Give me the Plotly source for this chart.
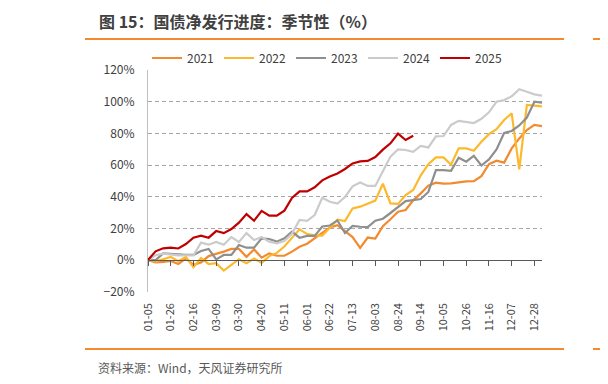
import plotly.graph_objects as go

# ---------------- data ----------------
weeks = ["01-05","01-12","01-19","01-26","02-02","02-09","02-16","02-23","03-02","03-09",
         "03-16","03-23","03-30","04-06","04-13","04-20","04-27","05-04","05-11","05-18",
         "05-25","06-01","06-08","06-15","06-22","06-29","07-06","07-13","07-20","07-27",
         "08-03","08-10","08-17","08-24","08-31","09-07","09-14","09-21","09-28","10-05",
         "10-12","10-19","10-26","11-02","11-09","11-16","11-23","11-30","12-07","12-14",
         "12-21","12-28","12-31"]

tick_labels = ["01-05","01-26","02-16","03-09","03-30","04-20","05-11","06-01","06-22",
               "07-13","08-03","08-24","09-14","10-05","10-26","11-16","12-07","12-28"]

y2021 = [0, -1.5, -1.2, -0.6, -2.5, 1, -3, -1.5, 2.5, 3.8,
         5.3, 7, 7, 2, 6.7, 1.5, 4.2, 2.7, 2.7, 5.3,
         8.4, 10.3, 13.8, 17.3, 20.6, 22, 18.5, 14.5, 7.7, 14.2,
         13.5, 21.3, 25.7, 30.5, 31.6, 37.7, 42.1, 47, 48.8, 48.2,
         48.4, 49, 49.7, 49.8, 53, 60.5, 62.7, 61.5, 70.5, 76.8,
         82.1, 85.3, 84.6]

y2022 = [0, -0.8, 0.5, 2, -0.8, 2, -4.6, 1.2, -2.5, -2,
         -6.7, -2.8, 0.5, -2, 1, -1.8, 2.5, 4.5, 8.5, 14,
         19.4, 16.4, 15.6, 15.4, 20.3, 25.5, 24.6, 32.6, 33.7, 35.7,
         37.5, 48.2, 35.8, 35.4, 41, 44.2, 53.5, 60.5, 64.8, 64.8,
         60.2, 70.5, 70.5, 69, 74.7, 79.5, 82.6, 88.4, 92.6, 57.3,
         98, 97.5, 97]

y2023 = [0, 0, 4.2, 3.8, 3.6, 3.2, 3.2, 5.7, 7, 0.4,
         3.2, 3.2, 9.5, 7.8, 7.8, 13.7, 13.3, 11.6, 13.7, 17.9,
         14.1, 15.2, 15.2, 21.2, 21.8, 25, 17, 21.6, 21, 20.8,
         24.8, 26.1, 29.7, 33.5, 37.2, 37.8, 38.5, 43, 56.8, 56.8,
         56.3, 64.6, 62.1, 65.8, 59.7, 63.5, 69.9, 80.2, 81.5, 85,
         90, 100, 99.4]

y2024 = [0, 3, 4, 3.5, 3, 3, 3, 11, 9.7, 11.4,
         9.7, 14.5, 11.4, 17, 12.6, 14.5, 11.5, 10.5, 12, 16.5,
         25.3, 24.8, 28.4, 39.3, 36.8, 35.6, 39.8, 46.5, 48.9, 46.8,
         46.8, 56, 65.3, 69.9, 69.5, 68.3, 72.1, 71.1, 78.1, 78.3,
         85.3, 87.9, 87.1, 86.5, 89.2, 93.3, 100, 101, 103.4, 107.9,
         106.3, 104.6, 103.8]

y2025 = [0, 5.5, 7.4, 7.8, 7.3, 10.1, 14.1, 15.4, 14.1, 18.3,
         17, 19.6, 23.6, 29, 24.8, 31, 28, 28, 31.2, 39.2,
         43.3, 43.3, 45.9, 50.3, 52.8, 54.7, 57.5, 61, 62.3, 62.6,
         65, 69.7, 73.7, 79.8, 75.8, 78.5]

series_names = ["2021", "2022", "2023", "2024", "2025"]
series_values = [y2021, y2022, y2023, y2024, y2025]
series_colors = ["#F28A30", "#FDB92C", "#8F8F8F", "#CBCBCB", "#C00000"]

# ---------------- layout geometry ----------------
W, H = 608, 384
OFF = 8  # page body margin offset of the rendered figure
def px(x):
    return (x - OFF) / W
def py(y):
    return (H - (y - OFF)) / H

x_dom = [px(148), px(542)]
y_dom = [py(291.7), py(70)]
y_min, y_max = -20, 120
zero_pos = y_dom[0] + (0 - y_min) / (y_max - y_min) * (y_dom[1] - y_dom[0])

FONT = "Noto Sans CJK SC, Noto Sans, sans-serif"

fig = go.Figure()
for name, vals, col in zip(series_names, series_values, series_colors):
    fig.add_trace(go.Scatter(
        x=weeks[:len(vals)], y=vals, name=name, mode="lines",
        line=dict(color=col, width=2.2), hoverinfo="skip"))

# dummy trace to carry the zero-line axis with tick marks
fig.add_trace(go.Scatter(x=[weeks[0]], y=[None], xaxis="x2", yaxis="y",
                         showlegend=False, hoverinfo="skip", mode="lines"))

fig.update_layout(
    width=W, height=H, autosize=False,
    margin=dict(l=0, r=0, t=0, b=0, pad=0, autoexpand=False),
    paper_bgcolor="white", plot_bgcolor="white",
    font=dict(family=FONT, size=11, color="#404040"),
    showlegend=True,
    legend=dict(orientation="h", x=px(147), y=py(58), xanchor="left", yanchor="middle",
                font=dict(size=12, color="#404040"), entrywidth=27, entrywidthmode="pixels",
                bgcolor="rgba(0,0,0,0)", traceorder="normal"),
    xaxis=dict(domain=x_dom, type="category", categoryorder="array", categoryarray=weeks,
               range=[0, len(weeks) - 1], tickmode="array", tickvals=tick_labels,
               ticktext=tick_labels, tickangle=-90, showgrid=False, showline=False,
               zeroline=False, ticks="outside", ticklen=6, tickcolor="rgba(0,0,0,0)",
               tickfont=dict(size=11, color="#404040"), anchor="y", automargin=False),
    xaxis2=dict(domain=x_dom, type="category", categoryorder="array", categoryarray=weeks,
                range=[0, len(weeks) - 1], overlaying="x", anchor="free", position=zero_pos,
                tickmode="array", tickvals=tick_labels, showticklabels=False,
                ticks="outside", ticklen=5, tickcolor="#595959", tickwidth=1,
                showline=True, linecolor="#595959", linewidth=1, showgrid=False,
                zeroline=False, automargin=False),
    yaxis=dict(domain=y_dom, range=[y_min, y_max], tickmode="linear", tick0=-20, dtick=20,
               ticksuffix="%", showgrid=True, gridcolor="#A6A6A6", gridwidth=1,
               griddash="4px,3px", showline=True, linecolor="#BFBFBF", linewidth=1,
               zeroline=False, ticks="outside", ticklen=10, tickcolor="rgba(0,0,0,0)",
               tickfont=dict(size=12, color="#404040"), automargin=False),
)

# title, rules, footer
fig.add_annotation(text="<b>图 15：国债净发行进度：季节性（%）</b>", x=px(97), y=py(21),
                   xref="paper", yref="paper", xanchor="left", yanchor="middle",
                   showarrow=False, font=dict(size=16, color="#404040", family=FONT))
fig.add_annotation(text="<b>图</b>", x=px(602), y=py(21), xref="paper", yref="paper",
                   xanchor="left", yanchor="middle", showarrow=False,
                   font=dict(size=16, color="#404040", family=FONT))
fig.add_annotation(text="资料来源：Wind，天风证券研究所", x=px(96), y=py(367),
                   xref="paper", yref="paper", xanchor="left", yanchor="middle",
                   showarrow=False, font=dict(size=12, color="#595959", family=FONT))
fig.add_annotation(text="资", x=px(602), y=py(367), xref="paper", yref="paper",
                   xanchor="left", yanchor="middle", showarrow=False,
                   font=dict(size=12, color="#595959", family=FONT))

rule = dict(type="line", xref="paper", yref="paper", line=dict(color="#F28A30", width=2))
for yy in (39, 349):
    fig.add_shape(x0=px(85), x1=px(564), y0=py(yy), y1=py(yy), **rule)
    fig.add_shape(x0=px(593), x1=px(616), y0=py(yy), y1=py(yy), **rule)

fig.write_html("out.html")
